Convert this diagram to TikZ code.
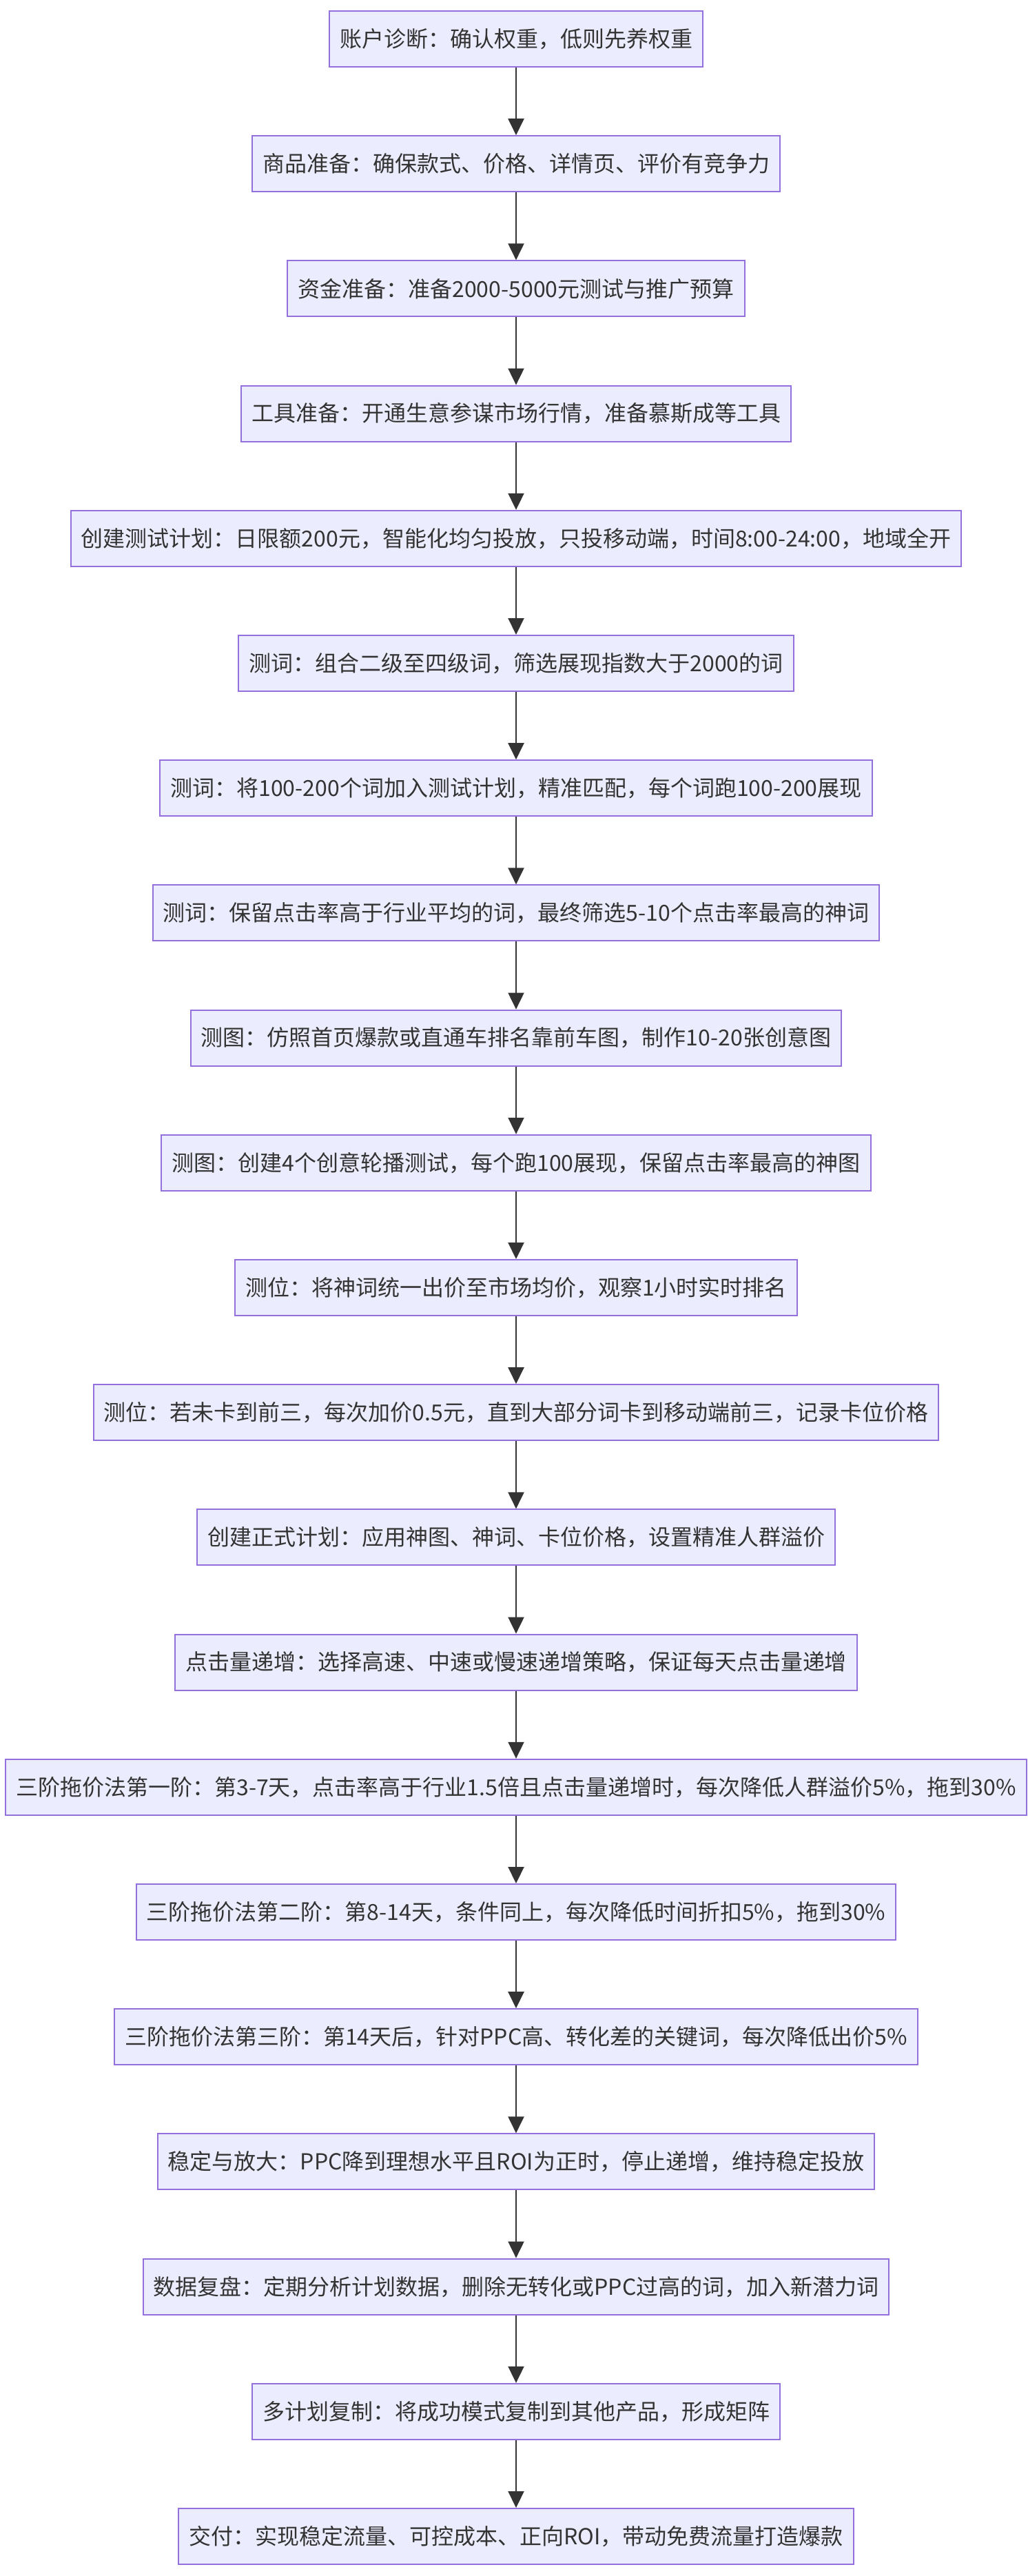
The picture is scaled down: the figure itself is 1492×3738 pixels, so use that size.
\documentclass[tikz,border=0pt]{standalone}
\usepackage{fontspec}
\newfontfamily\cjk{Noto Sans CJK SC}
\usetikzlibrary{arrows.meta}
\definecolor{boxfill}{HTML}{ECECFF}
\definecolor{boxline}{HTML}{9370DB}
\definecolor{ink}{HTML}{333333}
\tikzset{
  stepbox/.style={draw=boxline, fill=boxfill, line width=1pt, minimum height=40.5pt,
    inner xsep=7.5pt, inner ysep=0pt, text=ink, font=\cjk\fontsize{16pt}{20pt}\selectfont},
  flow/.style={draw=ink, line width=1pt, -{Triangle[length=12pt,width=11.5pt]}}
}
\begin{document}
\begin{tikzpicture}[x=0.5pt,y=-0.5pt]
\fill[white] (0,0) rectangle (1492,3738);
\useasboundingbox (0,0) rectangle (1492,3738);
\def\cx{749}
\node[stepbox] (n1) at (\cx,56.5) {账户诊断：确认权重，低则先养权重};
\node[stepbox] (n2) at (\cx,237.7) {商品准备：确保款式、价格、详情页、评价有竞争力};
\node[stepbox] (n3) at (\cx,418.9) {资金准备：准备2000-5000元测试与推广预算};
\node[stepbox] (n4) at (\cx,600.1) {工具准备：开通生意参谋市场行情，准备慕斯成等工具};
\node[stepbox] (n5) at (\cx,781.3) {创建测试计划：日限额200元，智能化均匀投放，只投移动端，时间8:00-24:00，地域全开};
\node[stepbox] (n6) at (\cx,962.5) {测词：组合二级至四级词，筛选展现指数大于2000的词};
\node[stepbox] (n7) at (\cx,1143.7) {测词：将100-200个词加入测试计划，精准匹配，每个词跑100-200展现};
\node[stepbox] (n8) at (\cx,1324.9) {测词：保留点击率高于行业平均的词，最终筛选5-10个点击率最高的神词};
\node[stepbox] (n9) at (\cx,1506.1) {测图：仿照首页爆款或直通车排名靠前车图，制作10-20张创意图};
\node[stepbox] (n10) at (\cx,1687.3) {测图：创建4个创意轮播测试，每个跑100展现，保留点击率最高的神图};
\node[stepbox] (n11) at (\cx,1868.5) {测位：将神词统一出价至市场均价，观察1小时实时排名};
\node[stepbox] (n12) at (\cx,2049.7) {测位：若未卡到前三，每次加价0.5元，直到大部分词卡到移动端前三，记录卡位价格};
\node[stepbox] (n13) at (\cx,2230.9) {创建正式计划：应用神图、神词、卡位价格，设置精准人群溢价};
\node[stepbox] (n14) at (\cx,2412.1) {点击量递增：选择高速、中速或慢速递增策略，保证每天点击量递增};
\node[stepbox] (n15) at (\cx,2593.3) {三阶拖价法第一阶：第3-7天，点击率高于行业1.5倍且点击量递增时，每次降低人群溢价5\%，拖到30\%};
\node[stepbox] (n16) at (\cx,2774.5) {三阶拖价法第二阶：第8-14天，条件同上，每次降低时间折扣5\%，拖到30\%};
\node[stepbox] (n17) at (\cx,2955.7) {三阶拖价法第三阶：第14天后，针对PPC高、转化差的关键词，每次降低出价5\%};
\node[stepbox] (n18) at (\cx,3136.9) {稳定与放大：PPC降到理想水平且ROI为正时，停止递增，维持稳定投放};
\node[stepbox] (n19) at (\cx,3318.1) {数据复盘：定期分析计划数据，删除无转化或PPC过高的词，加入新潜力词};
\node[stepbox] (n20) at (\cx,3499.3) {多计划复制：将成功模式复制到其他产品，形成矩阵};
\node[stepbox] (n21) at (\cx,3680.5) {交付：实现稳定流量、可控成本、正向ROI，带动免费流量打造爆款};
\foreach \a/\b in {1/2,2/3,3/4,4/5,5/6,6/7,7/8,8/9,9/10,10/11,11/12,12/13,13/14,14/15,15/16,16/17,17/18,18/19,19/20,20/21}
  \draw[flow] (n\a) -- (n\b);
\end{tikzpicture}
\end{document}
